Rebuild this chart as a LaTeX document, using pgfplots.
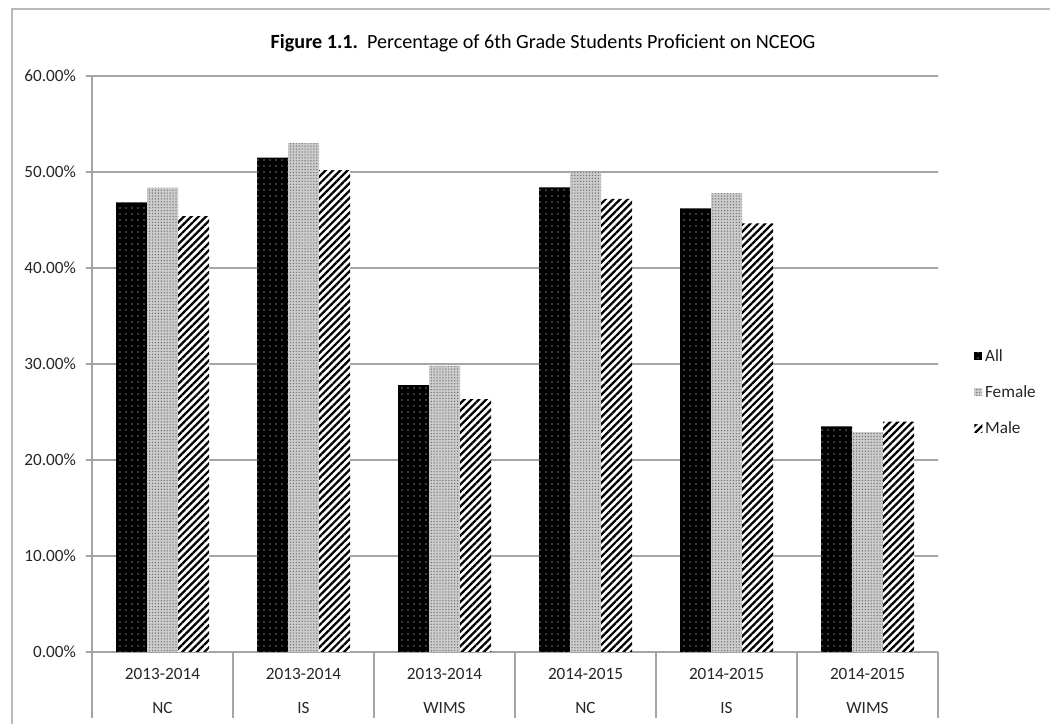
\documentclass[border=0pt]{standalone}
\usepackage{fontspec}
\setmainfont{Carlito}
\usepackage{pgfplots}
\pgfplotsset{compat=1.18}
\usetikzlibrary{patterns,patterns.meta}

\definecolor{gridgray}{RGB}{165,165,165}
\definecolor{framegray}{RGB}{185,185,185}
\newcommand{\chartfont}{\fontsize{12.9}{15}\selectfont}
\newcommand{\titlefont}{\fontsize{15.1}{18}\selectfont}

\tikzset{
  allfill/.style={fill=black, postaction={pattern={Dots[distance=4.5pt,radius=0.45pt]}, pattern color=white}},
  femalefill/.style={fill=black!20, postaction={pattern={Dots[distance=2.2pt,radius=0.55pt]}, pattern color=black!55}},
  malefill/.style={fill=white, postaction={pattern={Lines[angle=45,distance=3.9pt,line width=1.7pt]}, pattern color=black}},
}

\begin{document}
\begin{tikzpicture}[x=0.75pt,y=0.75pt]
% page area (1 unit = 1 screen pixel)
\path[use as bounding box] (0,0) rectangle (1050,724);
% chart frame
\draw[framegray, line width=1pt] (12,0) -- (12,715) -- (1050,715);
% title
\node[font=\titlefont] at (543,681) {\textbf{Figure 1.1.}\ \ Percentage of 6th Grade Students Proficient on NCEOG};

\coordinate (plotSW) at (92,72);
\begin{axis}[
  at={(plotSW)}, anchor=south west,
  scale only axis, width=634.5pt, height=432pt,
  ybar=0pt, bar width=23.25pt,
  xmin=-0.5, xmax=5.5, ymin=0, ymax=60,
  xtick={0,1,2,3,4,5},
  xticklabels={{2013-2014\\[10.5pt]NC},{2013-2014\\[10.5pt]IS},{2013-2014\\[10.5pt]WIMS},
               {2014-2015\\[10.5pt]NC},{2014-2015\\[10.5pt]IS},{2014-2015\\[10.5pt]WIMS}},
  xticklabel style={align=center, font=\chartfont, text=black!85, yshift=-4.5pt},
  xtick style={draw=none},
  ytick={0,10,...,60},
  yticklabel={\pgfmathprintnumber[fixed,fixed zerofill,precision=2]{\tick}\%},
  yticklabel style={font=\chartfont, text=black!85, xshift=-4pt},
  /pgf/number format/assume math mode=true,
  tick align=outside, major tick length=4.5pt,
  ytick style={draw=gridgray, line width=0.8pt},
  ymajorgrids, grid style={draw=gridgray, line width=0.8pt},
  axis x line*=bottom, axis y line*=left,
  axis line style={-, draw=gridgray, line width=0.8pt},
  clip=false,
  legend cell align=left,
  legend style={at={(1.038,0.451)}, anchor=west, draw=none, fill=none,
    font=\chartfont, text=black!85, row sep=12.6pt},
  legend image code/.code={\path[#1,draw=none] (0pt,-3pt) rectangle (6pt,3pt);},
]
\addplot[allfill, draw=none] coordinates {(0,46.84) (1,51.5) (2,27.8) (3,48.4) (4,46.2) (5,23.5)};
\addplot[femalefill, draw=none] coordinates {(0,48.37) (1,53.0) (2,29.8) (3,50.0) (4,47.8) (5,22.9)};
\addplot[malefill, draw=none] coordinates {(0,45.4) (1,50.2) (2,26.35) (3,47.2) (4,44.65) (5,24.0)};
\legend{All,Female,Male}
% category separators below the axis
\pgfplotsinvokeforeach{-0.5,0.5,1.5,2.5,3.5,4.5,5.5}{
  \draw[gridgray, line width=0.8pt] (axis cs:#1,0) -- ([yshift=-49.5pt]axis cs:#1,0);
}
\end{axis}
\end{tikzpicture}
\end{document}
